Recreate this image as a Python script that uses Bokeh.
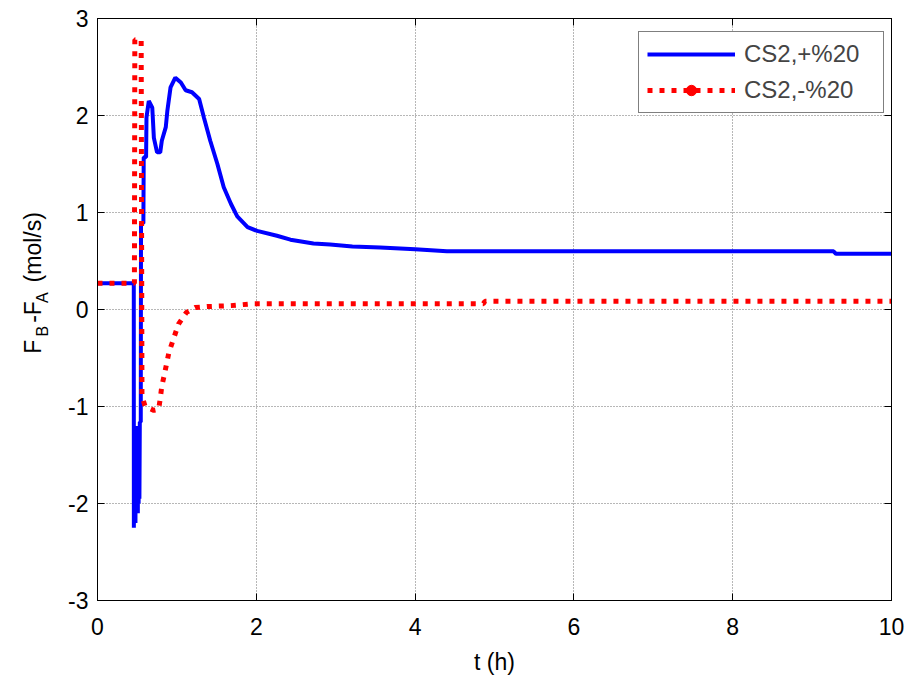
import math
from bokeh.plotting import figure
from bokeh.layouts import row
from bokeh.models import (Legend, LegendItem, LinearAxis, Range1d,
                          ColumnDataSource, FixedTicker)
from bokeh.core.properties import value
from bokeh.embed import file_html
from bokeh.resources import INLINE

# ---- data ----
blue_t = [0, 0.457, 0.458, 0.463, 0.468, 0.473, 0.478, 0.483, 0.488, 0.493,
          0.498, 0.503, 0.508, 0.513, 0.518, 0.523, 0.528, 0.533, 0.545,
          0.548, 0.578, 0.582, 0.612, 0.617, 0.646, 0.69, 0.71, 0.75, 0.79,
          0.81, 0.86, 0.88, 0.92, 0.98, 1.05, 1.11, 1.19, 1.28, 1.34, 1.42,
          1.51, 1.59, 1.68, 1.76, 1.89, 2.01, 2.26, 2.43, 2.72, 2.93, 3.21,
          3.56, 4.0, 4.4, 9.27, 9.3, 10]
blue_y = [0.27, 0.27, -2.25, -1.25, -2.15, -1.3, -2.2, -1.2, -2.1, -1.3,
          -2.05, -1.2, -2.1, -1.25, -2.0, -1.2, -1.95, -1.16, -1.16,
          0.89, 0.89, 1.57, 1.57, 1.98, 2.15, 2.08, 1.77, 1.62, 1.62,
          1.74, 1.88, 2.05, 2.29, 2.39, 2.34, 2.26, 2.24, 2.17, 1.98, 1.74,
          1.50, 1.26, 1.09, 0.96, 0.85, 0.81, 0.76, 0.72, 0.68, 0.67, 0.65,
          0.64, 0.62, 0.60, 0.60, 0.575, 0.575]

red_t = [0, 0.465, 0.47, 0.55, 0.56, 0.60, 0.71, 0.77, 0.79, 0.81, 0.84,
         0.87, 0.90, 0.95, 1.02, 1.12, 1.23, 1.38, 1.68, 1.97, 4.86, 4.88, 10]
red_y = [0.27, 0.27, 2.78, 2.78, -0.89, -1.0, -1.04, -1.03, -0.92, -0.79,
         -0.68, -0.56, -0.44, -0.32, -0.15, -0.03, 0.02, 0.03, 0.04, 0.06,
         0.06, 0.085, 0.085]

x_ticks = [0, 2, 4, 6, 8, 10]
y_ticks = [-3, -2, -1, 0, 1, 2, 3]
x_tick_labels = ["0", "2", "4", "6", "8", "10"]
y_tick_labels = ["-3", "-2", "-1", "0", "1", "2", "3"]
series_names = ["CS2,+%20", "CS2,-%20"]
x_label = "t (h)"
# y label pieces: main text and subscripts
y_label_main = ["F", "-F", "(mol/s)"]
y_label_sub = ["B", "A"]

FONT = "Liberation Sans"
FS = "23px"
W_LEFT = 50
W, H = 911, 677

# ---------- left strip holding the y-axis title ----------
pl = figure(width=W_LEFT, height=H, x_range=Range1d(0, W_LEFT), y_range=Range1d(0, H),
            output_backend="svg", toolbar_location=None,
            min_border=0, min_border_left=0, min_border_right=0,
            min_border_top=0, min_border_bottom=0)
pl.axis.visible = False
pl.grid.visible = False
pl.outline_line_color = None
pl.background_fill_color = "white"
pl.border_fill_color = "white"
# positions in pixels of the strip (y measured up from the bottom)
main_x = [32, 32, 32]
main_y = [H - 390, H - 354, H - 307]
sub_x = [42, 42]
sub_y = [H - 370, H - 331]
pl.text(x=main_x, y=main_y, text=y_label_main, angle=math.pi / 2,
        text_font=value(FONT), text_font_size=value(FS), text_color="black",
        text_align="left", text_baseline="alphabetic")
pl.text(x=sub_x, y=sub_y, text=y_label_sub, angle=math.pi / 2,
        text_font=value(FONT), text_font_size=value("16px"), text_color="black",
        text_align="left", text_baseline="alphabetic")

# ---------- main plot ----------
p = figure(width=W - W_LEFT, height=H, x_range=Range1d(0, 10), y_range=Range1d(-3, 3),
           output_backend="svg", toolbar_location=None,
           min_border_left=97 - W_LEFT, min_border_right=20, min_border_top=18,
           min_border_bottom=74)
p.background_fill_color = "white"
p.border_fill_color = "white"
p.outline_line_color = "black"
p.outline_line_width = 1

for ax, ticks, labs in ((p.xaxis[0], x_ticks, x_tick_labels),
                        (p.yaxis[0], y_ticks, y_tick_labels)):
    ax.ticker = FixedTicker(ticks=ticks)
    ax.major_label_overrides = {t: s for t, s in zip(ticks, labs)}
    ax.major_tick_in = 7
    ax.major_tick_out = 0
    ax.minor_tick_line_color = None
    ax.axis_line_color = "black"
    ax.major_tick_line_color = "black"
    ax.major_label_text_font = FONT
    ax.major_label_text_font_size = FS
    ax.major_label_text_color = "black"
p.xaxis[0].major_label_standoff = 17
p.yaxis[0].major_label_standoff = 9
p.xaxis[0].axis_label = x_label
p.xaxis[0].axis_label_text_font = FONT
p.xaxis[0].axis_label_text_font_size = FS
p.xaxis[0].axis_label_text_font_style = "normal"
p.xaxis[0].axis_label_text_color = "black"
p.xaxis[0].axis_label_standoff = 11

top_ax = LinearAxis(ticker=FixedTicker(ticks=x_ticks))
right_ax = LinearAxis(ticker=FixedTicker(ticks=y_ticks))
for ax, ticks in ((top_ax, x_ticks), (right_ax, y_ticks)):
    ax.major_label_overrides = {t: "" for t in ticks}
    ax.major_tick_in = 7
    ax.major_tick_out = 0
    ax.minor_tick_line_color = None
    ax.major_label_standoff = 0
    ax.axis_line_color = "black"
p.add_layout(top_ax, "above")
p.add_layout(right_ax, "right")

for g, ticks in ((p.xgrid[0], x_ticks), (p.ygrid[0], y_ticks)):
    g.ticker = FixedTicker(ticks=ticks)
    g.grid_line_color = "#6e6e6e"
    g.grid_line_dash = "1 2"
    g.grid_line_width = 1

src_b = ColumnDataSource(dict(t=blue_t, y=blue_y))
src_r = ColumnDataSource(dict(t=red_t, y=red_y))
r_blue = p.line("t", "y", source=src_b, line_color="#0000ff", line_width=4)
r_red = p.line("t", "y", source=src_r, line_color="#ff0000", line_width=5,
               line_dash="5 7", line_cap="butt")
# legend-only marker (NaN point: nothing drawn in the plot area)
r_dot = p.scatter(x=[float("nan")], y=[float("nan")], marker="circle", size=12,
                  fill_color="#ff0000", line_color="#ff0000")

legend = Legend(items=[LegendItem(label=series_names[0], renderers=[r_blue]),
                       LegendItem(label=series_names[1], renderers=[r_red, r_dot])],
                location=(541, 487), margin=0, padding=8, spacing=8,
                glyph_width=88, glyph_height=26, label_standoff=9,
                label_width=131, label_height=26,
                label_text_font=FONT, label_text_font_size="24px",
                border_line_color="black", border_line_width=1,
                background_fill_color="white", background_fill_alpha=1)
p.add_layout(legend)

layout = row(pl, p, spacing=0)
open("out.html", "w").write(file_html(layout, INLINE))
